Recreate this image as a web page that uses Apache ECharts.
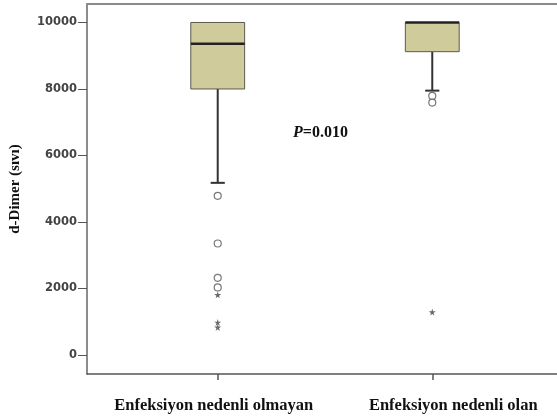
<!DOCTYPE html>
<html>
<head>
<meta charset="utf-8">
<title>d-Dimer (sıvı)</title>
<script src="https://cdn.jsdelivr.net/npm/echarts@6/dist/echarts.min.js"></script>
<style>
  html, body { margin: 0; padding: 0; background: #fff; }
  #chart { width: 557px; height: 420px; }
</style>
</head>
<body>
<div id="chart"></div>
<script>
// Groups shown along the horizontal axis
const categories = ['Enfeksiyon nedenli olmayan', 'Enfeksiyon nedenli olan'];

// Five-number summaries per group: [lower whisker, Q1, median, Q3, upper whisker]
const boxStats = [
  [5176, 8000, 9363, 10000, 10000],
  [7950, 9122, 10000, 10000, 10000]
];

// Mild outliers (circles) and extreme outliers (stars), per group
const outliersGroup1 = [4785, 3351, 2320, 2029];
const extremesGroup1 = [1809, 977, 827];
const outliersGroup2 = [7791, 7590];
const extremesGroup2 = [1289];

// Value-axis tick labels
const yTicks = [0, 2000, 4000, 6000, 8000, 10000];

const yAxisName = 'd-Dimer (sıvı)';
const pValueText = '0.010';

// Axis extents
const X_MIN = 0.3907, X_MAX = 2.5814;
const Y_MIN = -574, Y_MAX = 10556;
const BOX_WIDTH = 0.251, CAP_WIDTH = 0.066;

const boxData = boxStats.map((s, i) => [i + 1].concat(s));
const toPoints = (vals, x) => vals.map(v => [x, v]);
const circlePoints = toPoints(outliersGroup1, 1).concat(toPoints(outliersGroup2, 2));
const starPoints = toPoints(extremesGroup1, 1).concat(toPoints(extremesGroup2, 2));

const STAR = 'path://M50,0 L61,35 L98,35 L68,57 L79,91 L50,70 L21,91 L32,57 L2,35 L39,35 Z';
const serif = '"Liberation Serif", "Times New Roman", serif';

const chart = echarts.init(document.getElementById('chart'), null, { renderer: 'canvas' });

function renderBox(params, api) {
  const x = api.value(0);
  const lo = api.coord([x, api.value(1)]);
  const q1 = api.coord([x, api.value(2)]);
  const med = api.coord([x, api.value(3)]);
  const q3 = api.coord([x, api.value(4)]);
  const hi = api.coord([x, api.value(5)]);
  const bw = api.size([BOX_WIDTH, 0])[0];
  const cw = api.size([CAP_WIDTH, 0])[0];
  const cx = q1[0];
  const whisker = { stroke: '#333', lineWidth: 2 };
  const children = [];
  if (lo[1] > q1[1] + 0.5) {
    children.push({ type: 'line', shape: { x1: cx, y1: q1[1], x2: cx, y2: lo[1] }, style: whisker });
    children.push({ type: 'line', shape: { x1: cx - cw / 2, y1: lo[1], x2: cx + cw / 2, y2: lo[1] }, style: whisker });
  }
  if (hi[1] < q3[1] - 0.5) {
    children.push({ type: 'line', shape: { x1: cx, y1: q3[1], x2: cx, y2: hi[1] }, style: whisker });
    children.push({ type: 'line', shape: { x1: cx - cw / 2, y1: hi[1], x2: cx + cw / 2, y2: hi[1] }, style: whisker });
  }
  children.push({
    type: 'rect',
    shape: { x: cx - bw / 2, y: q3[1], width: bw, height: q1[1] - q3[1] },
    style: { fill: '#d0cb9b', stroke: '#5a5a50', lineWidth: 1 }
  });
  children.push({
    type: 'line',
    shape: { x1: cx - bw / 2, y1: med[1], x2: cx + bw / 2, y2: med[1] },
    style: { stroke: '#222', lineWidth: 2.5 }
  });
  return { type: 'group', children };
}

const option = {
  animation: false,
  backgroundColor: '#fff',
  grid: { left: 86, top: 4, right: 0, bottom: 46, containLabel: false },
  xAxis: [{
    type: 'value', position: 'bottom', min: X_MIN, max: X_MAX,
    axisLine: { show: true, onZero: false, lineStyle: { color: '#555', width: 1.5 } },
    axisTick: { show: true, customValues: [1, 2], length: 6, lineStyle: { color: '#555', width: 1.5 } },
    axisLabel: {
      customValues: [1, 2], margin: 23,
      formatter: v => (v === 1 ? '{a|' + categories[0] + '}' : '{b|' + categories[1] + '}'),
      rich: {
        a: { fontFamily: serif, fontWeight: 'bold', fontSize: 16.5, color: '#111', padding: [0, 8, 0, 0] },
        b: { fontFamily: serif, fontWeight: 'bold', fontSize: 16.5, color: '#111', padding: [0, 0, 0, 42] }
      }
    },
    splitLine: { show: false }
  }, {
    type: 'value', position: 'top', min: X_MIN, max: X_MAX,
    axisLine: { show: true, onZero: false, lineStyle: { color: '#8a8a8a', width: 2 } },
    axisTick: { show: false }, axisLabel: { show: false }, splitLine: { show: false }
  }],
  yAxis: {
    type: 'value', min: Y_MIN, max: Y_MAX,
    name: yAxisName, nameLocation: 'middle', nameGap: 64, nameRotate: 90,
    nameTextStyle: { fontFamily: serif, fontWeight: 'bold', fontSize: 15, color: '#111' },
    axisLine: { show: true, onZero: false, lineStyle: { color: '#666', width: 1.5 } },
    axisTick: { show: true, customValues: yTicks, length: 9, lineStyle: { color: '#555', width: 1 } },
    axisLabel: {
      customValues: yTicks, margin: 10,
      formatter: v => String(v),
      fontFamily: '"DejaVu Sans", Verdana, sans-serif', fontWeight: 'bold', fontSize: 11.5, color: '#444'
    },
    splitLine: { show: false }
  },
  graphic: [{
    type: 'text', left: 293, top: 125,
    style: {
      text: '{i|P}{b|=' + pValueText + '}',
      rich: {
        i: { fontFamily: serif, fontWeight: 'bold', fontStyle: 'italic', fontSize: 16, fill: '#111' },
        b: { fontFamily: serif, fontWeight: 'bold', fontSize: 16, fill: '#111' }
      }
    }
  }],
  series: [{
    type: 'custom', xAxisIndex: 0, yAxisIndex: 0,
    renderItem: renderBox,
    encode: { x: 0, y: [1, 2, 3, 4, 5] },
    data: boxData, z: 2
  }, {
    type: 'scatter', xAxisIndex: 0, yAxisIndex: 0,
    symbol: 'circle', symbolSize: 7,
    itemStyle: { color: '#fff', borderColor: '#555', borderWidth: 1.2 },
    data: circlePoints, z: 3
  }, {
    type: 'scatter', xAxisIndex: 0, yAxisIndex: 0,
    symbol: STAR, symbolSize: 7,
    itemStyle: { color: '#444' },
    data: starPoints, z: 3
  }]
};

chart.setOption(option);
</script>
</body>
</html>
